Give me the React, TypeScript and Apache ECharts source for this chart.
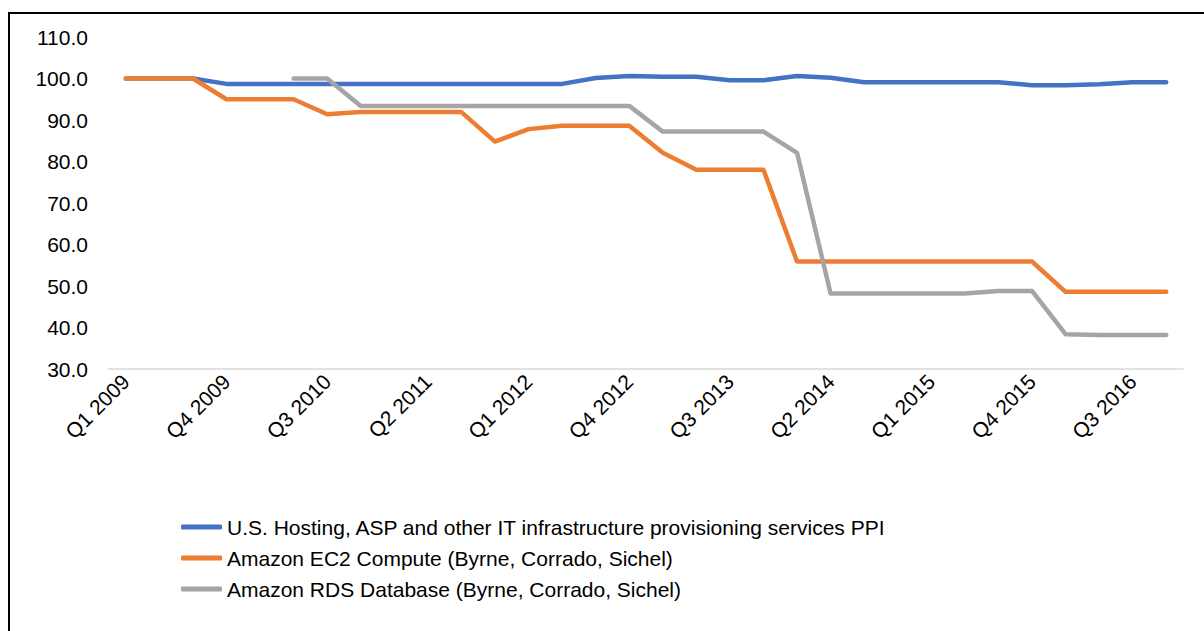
import React, { useEffect, useRef } from "react";
import * as echarts from "echarts";

const quarters: string[] = [];
for (let y = 2009; y <= 2016; y++) {
  for (let q = 1; q <= 4; q++) quarters.push(`Q${q} ${y}`);
}

const ppiName = "U.S. Hosting, ASP and other IT infrastructure provisioning services PPI";
const ec2Name = "Amazon EC2 Compute (Byrne, Corrado, Sichel)";
const rdsName = "Amazon RDS Database (Byrne, Corrado, Sichel)";

const ppiValues = [
  100, 100, 100, 98.7, 98.7, 98.7, 98.7, 98.7, 98.7, 98.7, 98.7, 98.7, 98.7, 98.7,
  100.1, 100.6, 100.4, 100.4, 99.6, 99.6, 100.6, 100.2, 99.1, 99.1, 99.1, 99.1, 99.1,
  98.4, 98.4, 98.6, 99.1, 99.1,
];
const ec2Values = [
  100, 100, 100, 95.0, 95.0, 95.0, 91.4, 91.9, 91.9, 91.9, 91.9, 84.8, 87.8, 88.6,
  88.6, 88.6, 82.1, 78.0, 78.0, 78.0, 55.9, 55.9, 55.9, 55.9, 55.9, 55.9, 55.9, 55.9,
  48.6, 48.6, 48.6, 48.6,
];
const rdsValues = [
  null, null, null, null, null, 100, 100, 93.4, 93.4, 93.4, 93.4, 93.4, 93.4, 93.4,
  93.4, 93.4, 87.2, 87.2, 87.2, 87.2, 82.1, 48.2, 48.2, 48.2, 48.2, 48.2, 48.8, 48.8,
  38.4, 38.2, 38.2, 38.2,
];

const FONT = "'Liberation Sans', Arial, sans-serif";

export default function App() {
  const ref = useRef<HTMLDivElement>(null);
  useEffect(() => {
    if (!ref.current) return;
    const chart = echarts.init(ref.current, null, { renderer: "svg" });
    const line = (name: string, data: (number | null)[], color: string) => ({
      name,
      type: "line",
      data,
      symbol: "none",
      connectNulls: false,
      lineStyle: { color, width: 4.5, cap: "round", join: "round" },
      itemStyle: { color },
    });
    chart.setOption({
      animation: false,
      backgroundColor: "#fff",
      textStyle: { fontFamily: FONT },
      graphic: [
        {
          type: "rect",
          shape: { x: 9, y: 13, width: 1400, height: 800 },
          style: { fill: "none", stroke: "#000", lineWidth: 2 },
          silent: true,
          z: 100,
        },
      ],
      grid: { left: 109, right: 21, top: 37, bottom: 262 },
      xAxis: {
        type: "category",
        data: quarters,
        boundaryGap: true,
        axisLine: { show: true, lineStyle: { color: "#d9d9d9", width: 1.5 } },
        axisTick: { show: false },
        axisLabel: {
          interval: 2,
          rotate: 45,
          color: "#000",
          fontSize: 21,
          fontFamily: FONT,
          margin: 9,
        },
      },
      yAxis: {
        type: "value",
        min: 30,
        max: 110,
        interval: 10,
        axisLine: { show: false },
        axisTick: { show: false },
        splitLine: { show: false },
        axisLabel: {
          color: "#000",
          fontSize: 21,
          fontFamily: FONT,
          margin: 21,
          formatter: (v: number) => v.toFixed(1),
        },
      },
      legend: {
        orient: "vertical",
        left: 176,
        top: 511,
        itemWidth: 41,
        itemHeight: 5,
        itemGap: 9,
        icon: "roundRect",
        textStyle: { color: "#000", fontSize: 21, fontFamily: FONT, lineHeight: 22 },
        data: [ppiName, ec2Name, rdsName],
      },
      series: [
        line(ppiName, ppiValues, "#4472C4"),
        line(ec2Name, ec2Values, "#ED7D31"),
        line(rdsName, rdsValues, "#A5A5A5"),
      ],
    });
    return () => chart.dispose();
  }, []);
  return (
    <div
      ref={ref}
      style={{ position: "fixed", left: 0, top: 0, width: 1204, height: 631 }}
    />
  );
}
